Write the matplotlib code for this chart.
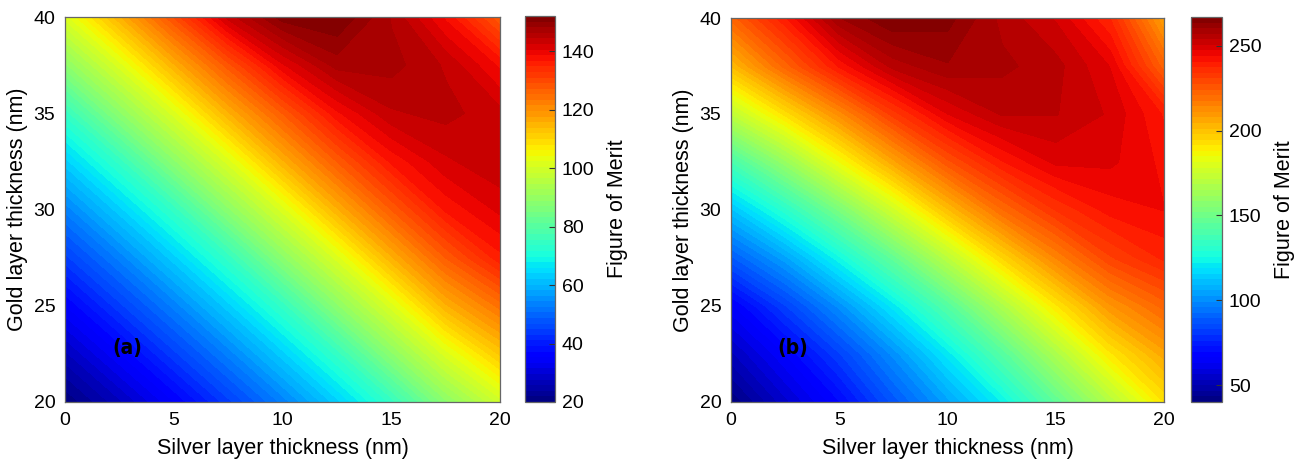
import matplotlib
matplotlib.use("Agg")
import matplotlib.pyplot as plt
import numpy as np

plt.rcParams["font.family"] = ["Liberation Sans", "DejaVu Sans"]

# grid (nm)
silver = [0, 2.5, 5, 7.5, 10, 12.5, 15, 17.5, 20]
gold = [20, 22.5, 25, 27.5, 30, 32.5, 35, 37.5, 40]

# figure of merit, rows = gold thickness (bottom to top), cols = silver thickness
fom_a = [
    [20, 27, 35, 44, 53, 63, 74, 88, 99],
    [27, 35, 44, 53, 63, 74, 88, 101, 112],
    [35, 44, 53, 63, 74, 88, 101, 115, 124],
    [44, 53, 63, 74, 88, 101, 115, 127, 136],
    [53, 63, 74, 88, 101, 115, 127, 137, 141],
    [63, 74, 88, 101, 115, 127, 137, 142, 144],
    [74, 88, 101, 115, 127, 138, 144, 145, 143],
    [88, 101, 115, 128, 140, 147, 147, 144, 138],
    [101, 115, 129, 143, 151, 152, 146, 138, 127],
]

fom_b = [
    [40, 55, 69, 87, 104, 122, 145, 168, 191],
    [52, 66, 82, 100, 120, 142, 166, 190, 206],
    [65, 82, 100, 120, 142, 166, 190, 210, 222],
    [88, 104, 124, 146, 170, 194, 214, 230, 238],
    [111, 130, 152, 176, 200, 220, 234, 242, 244],
    [138, 160, 184, 206, 226, 240, 248, 248, 243],
    [171, 192, 212, 232, 247, 254, 254, 250, 240],
    [201, 222, 241, 255, 260, 258, 255, 247, 222],
    [222, 240, 260, 267, 265, 256, 250, 237, 207],
]

panels = [
    ("(a)", fom_a, [20, 40, 60, 80, 100, 120, 140],
     [0.0500, 0.1447, 0.3344, 0.8191], [0.4035, 0.1447, 0.0231, 0.8213]),
    ("(b)", fom_b, [50, 100, 150, 200, 250],
     [0.5619, 0.1447, 0.3328, 0.8170], [0.9155, 0.1447, 0.0238, 0.8191]),
]

fig = plt.figure(figsize=(13.01, 4.70), dpi=100)

for tag, fom, cticks, ax_rect, cb_rect in panels:
    z = np.array(fom, dtype=float)
    ax = fig.add_axes(ax_rect)
    cax = fig.add_axes(cb_rect)
    levels = np.linspace(z.min(), z.max(), 70)
    cs = ax.contourf(silver, gold, z, levels=levels, cmap="jet")
    cs.set_edgecolor("face")

    ax.set_xlim(0, 20)
    ax.set_ylim(20, 40)
    ax.set_xticks([0, 5, 10, 15, 20])
    ax.set_yticks([20, 25, 30, 35, 40])
    ax.tick_params(labelsize=14, length=0, pad=7)
    ax.set_xlabel("Silver layer thickness (nm)", fontsize=15.5, labelpad=7)
    ax.set_ylabel("Gold layer thickness (nm)", fontsize=15.5, labelpad=4)
    for sp in ax.spines.values():
        sp.set_color("#666666")
        sp.set_linewidth(0.9)
    ax.text(2.85, 22.8, tag, fontsize=15, fontweight="bold",
            family=["DejaVu Sans"], stretch="condensed",
            ha="center", va="center", color="black")

    cb = fig.colorbar(cs, cax=cax, ticks=cticks)
    cb.ax.tick_params(labelsize=14, direction="in", length=4, width=0.8,
                      color="#333333", pad=5)
    cb.outline.set_edgecolor("#666666")
    cb.outline.set_linewidth(0.9)
    cb.set_label("Figure of Merit", fontsize=15.5, labelpad=9)

fig.savefig("out.png", dpi=100)
